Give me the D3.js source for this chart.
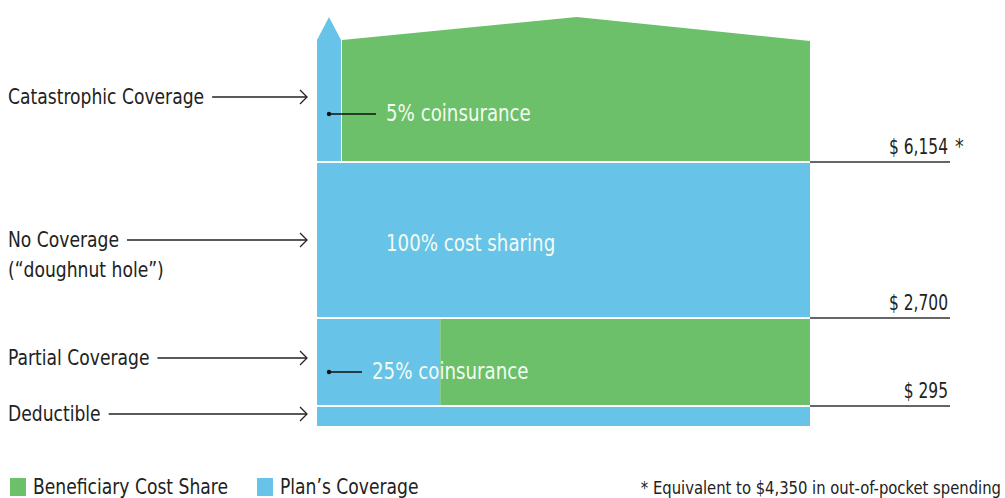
<!DOCTYPE html>
<html>
<head>
<meta charset="utf-8">
<script src="https://cdn.jsdelivr.net/npm/d3@7"></script>
<style>
  body { margin: 0; background: #fff; }
  svg text { font-family: "Liberation Sans Narrow", "DejaVu Sans Condensed", sans-serif; }
</style>
</head>
<body>
<svg id="chart" width="1005" height="498"></svg>
<script>
// tiers from bottom to top
const tiers = ["Deductible", "Partial Coverage", "No Coverage", "Catastrophic Coverage"];
const tier_start = [0, 295, 2700, 6154];
const tier_end = [295, 2700, 6154, 7000];
const plan_share = [1, 0.25, 1, 0.05];
const tier_notes = ["", "25% coinsurance", "100% cost sharing", "5% coinsurance"];
const tier_labels = [["Deductible"], ["Partial Coverage"], ["No Coverage", "(\u201cdoughnut hole\u201d)"], ["Catastrophic Coverage"]];
const thresholds = [295, 2700, 6154];
const threshold_labels = ["$ 295", "$ 2,700", "$ 6,154 *"];
const legend_items = ["Beneficiary Cost Share", "Plan\u2019s Coverage"];
const footnote = "* Equivalent to $4,350 in out-of-pocket spending";

const GREEN = "#6cc06a";
const BLUE = "#67c4e8";
const SQUEEZE = 0.9;

let svg = d3.select("#chart");

// squeezed text, like the narrow face of the original
function label(px, py, s, size, fill, anchor, sq) {
  sq = sq || SQUEEZE;
  let t = svg.append("text")
    .attr("transform", `translate(${px},${py}) scale(${sq},1)`)
    .attr("font-size", size).attr("fill", fill)
    .attr("text-anchor", anchor || "start")
    .text(s);
  t.property("sq", sq);
  return t;
}
function width_of(t) {
  return t.node().getComputedTextLength() * t.property("sq");
}

// schematic (piecewise) scale: spending -> vertical position
let y = d3.scaleLinear()
  .domain([0, 295, 2700, 6154, 7000])
  .range([426, 406, 318, 162, 40]);
let x = d3.scaleLinear().domain([0, 1]).range([317, 810]);
let color = d3.scaleOrdinal().domain(legend_items).range([GREEN, BLUE]);

const ROOF = 23;
const GAP = 1;

// bars
tiers.forEach((t, i) => {
  let top = y(tier_end[i]);
  let bot = y(tier_start[i]);
  let split = x(plan_share[i]);
  if (t === "Catastrophic Coverage") {
    split = Math.round(split) - 1;
    let mid = (x(0) + split) / 2;
    svg.append("path")
      .attr("d", `M${x(0)},${bot - GAP} L${x(0)},${top} L${mid},${top - ROOF} L${split},${top} L${split},${bot - GAP} Z`)
      .attr("fill", BLUE);
    let peak = x(0.527);
    svg.append("path")
      .attr("d", `M${split + 1},${bot - GAP} L${split + 1},${top} L${peak},${top - ROOF} L${x(1)},${top + 1} L${x(1)},${bot - GAP} Z`)
      .attr("fill", GREEN);
  } else {
    let gt = top + GAP;
    svg.append("rect")
      .attr("x", x(0)).attr("y", gt)
      .attr("width", split - x(0)).attr("height", bot - gt - (i === 0 ? 0 : GAP))
      .attr("fill", BLUE);
    if (plan_share[i] < 1) {
      svg.append("rect")
        .attr("x", split).attr("y", gt)
        .attr("width", x(1) - split).attr("height", bot - gt - GAP)
        .attr("fill", GREEN);
    }
  }

  // note inside the bar
  if (tier_notes[i]) {
    let ny = t === "Catastrophic Coverage" ? (y(tier_start[i]) + y(tier_end[i])) / 2 + 12
      : (top + bot) / 2 + (i === 1 ? 9 : 3);
    let tx = i === 1 ? 372 : 386;
    if (plan_share[i] < 1) {
      let dx = x(0) + 12;
      svg.append("circle").attr("cx", dx).attr("cy", ny + 1).attr("r", 2.2).attr("fill", "#111");
      svg.append("line")
        .attr("x1", dx).attr("y1", ny + 1).attr("x2", tx - 10).attr("y2", ny + 1)
        .attr("stroke", "#111").attr("stroke-width", 1.5);
    }
    label(tx, ny + 8, tier_notes[i], 22.5, "#f4fbf2");
  }

  // left labels with arrows
  let ly = { 0: 414, 1: 358, 2: 240, 3: 97 }[i];
  let w = 0;
  tier_labels[i].forEach((s, k) => {
    let tl = label(8, ly + 7 + k * 30, s, 21.2, "#222");
    if (k === 0) w = width_of(tl);
  });
  let ax0 = 8 + w + 8, ax1 = 307;
  svg.append("line")
    .attr("x1", ax0).attr("y1", ly).attr("x2", ax1).attr("y2", ly)
    .attr("stroke", "#222").attr("stroke-width", 1.3);
  svg.append("path")
    .attr("d", `M${ax1 - 7},${ly - 7} L${ax1},${ly} L${ax1 - 7},${ly + 7}`)
    .attr("fill", "none").attr("stroke", "#222").attr("stroke-width", 1.3);
});

// threshold lines and labels
thresholds.forEach((v, i) => {
  let ty = y(v);
  svg.append("line")
    .attr("x1", x(1)).attr("y1", ty).attr("x2", 950).attr("y2", ty)
    .attr("stroke", "#333").attr("stroke-width", 1.5);
  let parts = threshold_labels[i].split(" *");
  label(948, ty - 8, parts[0], 21.5, "#222", "end", 0.8);
  if (parts.length > 1) label(955, ty - 8, "*", 21.5, "#222");
});

// legend
let lx = 10;
legend_items.forEach((s) => {
  svg.append("rect").attr("x", lx).attr("y", 478).attr("width", 16).attr("height", 18).attr("fill", color(s));
  let t = label(lx + 23, 494, s, 21.2, "#222");
  lx += 23 + width_of(t) + 29;
});

label(1001, 494, footnote, 18.3, "#222", "end");
</script>
</body>
</html>
